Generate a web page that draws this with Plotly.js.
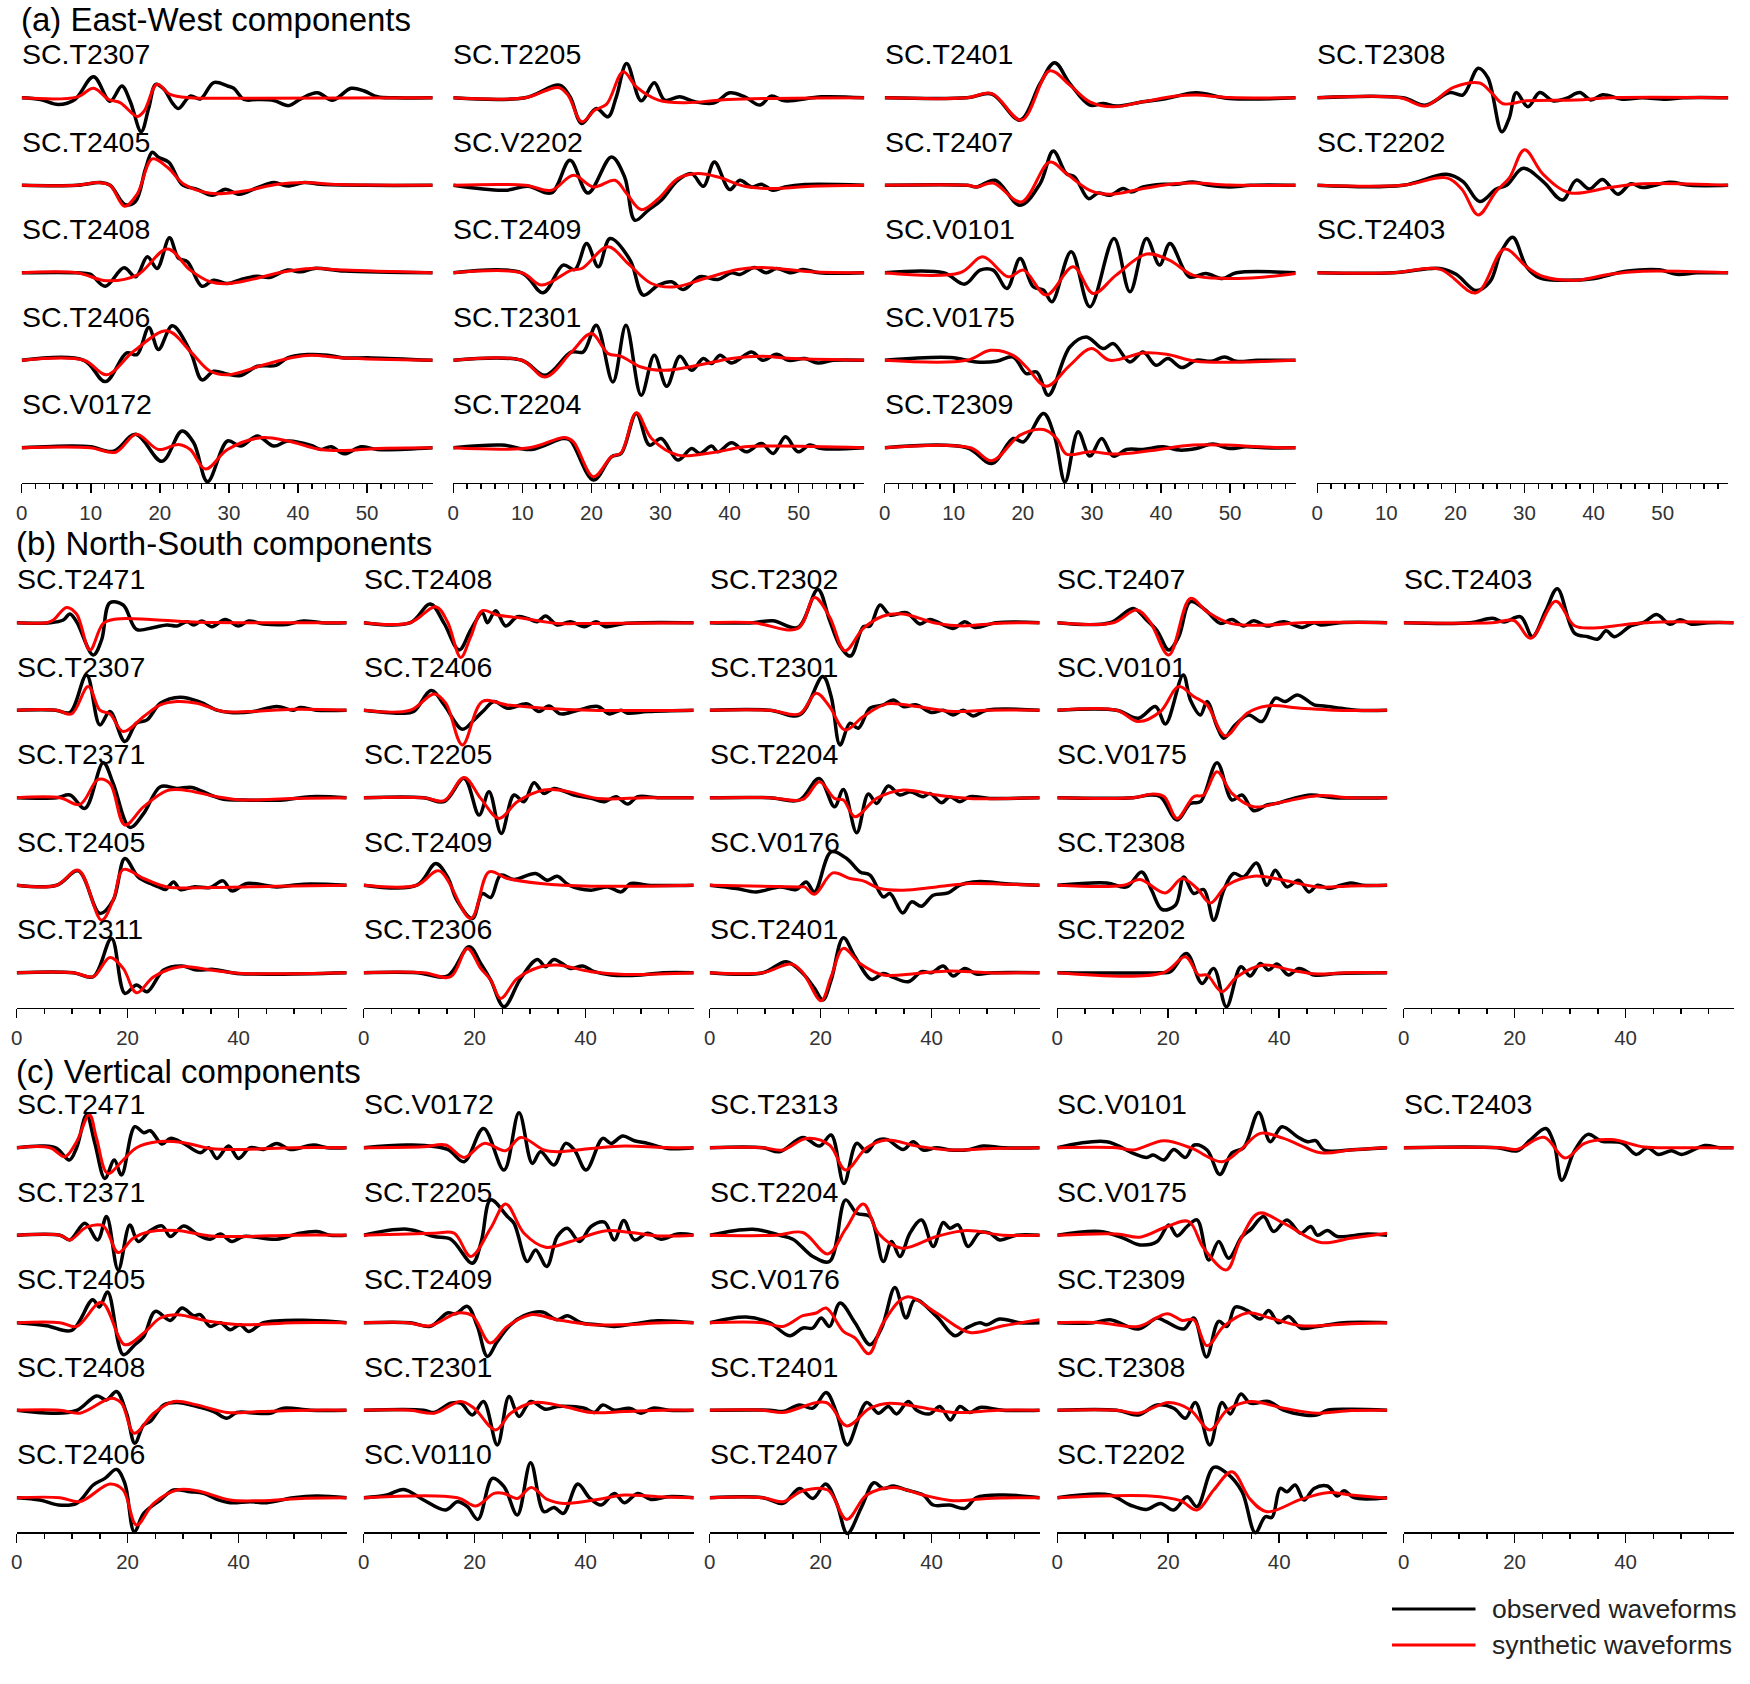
<!DOCTYPE html>
<html><head><meta charset="utf-8">
<script src="https://cdn.plot.ly/plotly-3.0.1.min.js"></script>
<style>html,body{margin:0;padding:0;background:#fff}</style>
</head><body><div id="chart" style="width:1750px;height:1684px"></div>
<script>
// ---------------- DATA: [time (s), amplitude] pairs ----------------
// (a) East-West components
const ewT2307o=[0,0,2.7,-1.7,5.3,-6.8,7.7,-1.7,10.4,21,12.8,-3.4,14.5,11.8,15.7,-3.4,17.3,-33.8,18.4,-10,19.4,13.5,20.6,8.5,21.8,-5,22.7,-10.8,24.4,1.7,25.9,-1,27.8,15.2,29.8,11.8,30.7,9.5,32.2,-1.7,34.1,-1.7,36.5,-2.7,38.7,-7.8,40.4,-1,42.8,5,45,-2.4,47.7,9.5,49.6,6.8,51.5,1,54,0,59.5,0];
const ewT2307s=[0,0,8,0.7,10.4,9.5,12.6,-1.7,14.3,-5,16.7,-18.6,17.7,-13.5,19.6,13.5,21.5,3.4,24.4,0,30,-0.5,59.5,0];
const ewT2405o=[0,0,8,0,11.4,2.7,12.8,0,15,-19.3,16.5,-15.9,17.9,16,18.9,33,19.8,28,21.3,23,23.2,1,25.4,-4,27.6,-10,29.5,-4,31.5,-9,34.1,-2.4,36.5,2.7,38.5,-0.7,40.9,2.7,43.3,1,50,0,59.5,0];
const ewT2405s=[0,0,8,0,11.1,2.7,12.8,0,14.9,-21,16.7,-9,18.9,26.4,21.1,18,23.5,1,27.3,-8,32.2,-5.7,37,1,40.9,2.7,46,0.7,59.5,0];
const ewT2408o=[0,0,8,0,9.9,-1.4,12.1,-13.5,14.8,5,16.5,-4,18.2,16,19.6,4.4,21.4,35,22.7,14.5,24,11,26.1,-13.5,27.8,-7.4,29.8,-10.8,31.7,-6.8,34.1,-3.4,35.8,-4.7,38.5,2.7,40.4,1,42.4,4.4,46.7,1.7,59.5,0];
const ewT2408s=[0,0,8,0,12.3,-8,16.7,-2.4,21.1,23.7,24.4,2.7,27.3,-9,29.8,-10.8,33.2,-6.8,38,1,41.9,4.4,46.7,2.7,59.5,0];
const ewT2406o=[0,0,9,0,12.1,-21.3,15.2,7.4,16.7,5.7,18.4,32.8,19.8,10.8,21.8,34.5,24.4,9,26.1,-19.6,27.8,-11,29.8,-13.9,31.7,-15.2,34.1,-6,36.8,-5,38.5,2.4,41.4,5.7,44.3,5,46.7,2.4,50.6,2.4,59.5,0];
const ewT2406s=[0,0,9,0,12.3,-14.5,16.2,9,21.1,29.4,24.4,9,27.3,-11,29.8,-14.5,35.1,-4.4,39.4,3,41.9,5,46.7,2.4,59.5,0];
const ewV0172o=[0,0,7,1.7,10,1,13.3,-3.4,16.5,13.5,20.3,-13.5,23.2,16.9,24.9,5,26.9,-33.8,29.8,6.8,31.7,1.7,34.1,11.8,36.5,1.7,38.5,6.8,41.9,2.4,43.3,-1.7,44.8,1,46.7,-6,49.1,1,51.5,-1.7,59.5,0];
const ewV0172s=[0,0,9.9,0,13.6,-4.4,16.6,13.5,19.8,-1.7,22.7,3.4,24.4,-1.7,26.6,-21.3,29.8,-1.7,34.6,10.1,38.5,6.8,43.3,-1.7,46.7,-2.7,51.5,-0.7,59.5,0];
const ewT2205o=[0,0,10.4,0,15.4,12.7,16.9,1,18.6,-25.7,20.7,-10.7,22.4,-19,23.6,1,25.1,34.3,27.2,-3,29.1,15,30.6,-2.3,32.8,1,35,-4,37.8,-5,40,5,42.2,1,44.4,-7.3,46,1.7,48,-3,53.3,1,59.5,0];
const ewT2205s=[0,0,10.4,0,15.2,10.3,16.6,2.7,18.6,-24,20.5,-12.3,22.2,-6.3,24.6,26,26.5,11,29.7,-2.3,33.5,-5,39.8,-1.7,59.5,0];
const ewV2202o=[0,0,7.5,-5,10.8,-1,14.2,-7.7,16.9,25,19.5,-7.7,22.9,28.3,24.8,8.3,26.3,-35,28.2,-25,30.1,-15,32.5,5,34.5,11.7,36.2,-1,37.8,23.3,40,-4.3,41.5,5,43.2,-1.7,44.6,1,46.3,-5,48,-1.7,50.9,0.7,59.5,0];
const ewV2202s=[0,0,10.4,0,14.2,-5,17.4,10,20.3,-1.7,23.4,5,25.1,-8.3,27.2,-24.3,29.7,-13.3,32.5,6.7,35.4,11.7,38.3,8.3,42.2,-1,46,-3.3,51.8,-1,59.5,0];
const ewT2409o=[0,0,9.9,0,13,-20,15.9,7.7,17.6,3.3,19.3,29.3,21,6,22.7,34.3,25.6,12.7,27.5,-22.3,29.7,-12.3,31.6,-9,33.3,-16.7,35.7,-4,38.3,-6.7,40.3,0,41.5,-1.7,43.6,5.3,45.3,0,46.8,4.3,48.9,0,50.6,3.3,53,0,59.5,0];
const ewT2409s=[0,0,9.9,0,12.8,-12.3,17.1,2.7,18.6,4.3,22.4,26,25.3,9.3,28.7,-10.7,32.1,-14,36.4,-5.7,41.2,3.3,44.6,5.3,51.8,1,59.5,0];
const ewT2301o=[0,0,9.9,0,13.3,-15,17.1,8.3,18.8,8.3,20.7,35,23.1,-21.7,25,35,27.2,-35,29.1,5,30.9,-26,32.8,4,34.5,-10,36.2,1.7,37.4,-3.3,38.6,5,40.3,-2.7,43.2,8.3,44.8,0,46.8,6,48.5,0,50.9,1.7,52.8,-2.7,55,0,59.5,0];
const ewT2301s=[0,0,9.9,0,13.3,-16.7,17.1,8.3,20,26.7,22.4,6.7,24.3,4,27.2,-6.7,30.6,-10,35.4,-5,40.3,1.7,44.6,4,49.4,1.7,59.5,0];
const ewT2204o=[0,0,7,2.7,11.3,-1.7,15.9,9.3,16.9,7.7,20.3,-32.3,22.9,-9,24.3,-5.7,26.5,34.3,28.4,2.7,30.1,9.3,32.5,-12.3,34.5,-0.7,35.7,-5.7,37.4,1.7,38.3,-4,40.3,5,42.4,-4,44.6,4.3,46.3,-5.7,48.1,11,49.9,-4,51.6,2.7,53.3,-0.7,59.5,0];
const ewT2204s=[0,0,11,0,16.2,10.3,17.4,6,20.3,-29,22.9,-9,24.3,-5,26.5,35,28.7,9.3,32.5,-7.3,37.4,-5,42.2,1,47,1.7,59.5,0];
const ewT2401o=[0,0,11.9,0,15.5,3.7,19.6,-22.3,22.5,14.3,24.6,35,26.8,14.3,29.7,-7.3,31.6,-5.7,33.5,-8.3,37.4,-4,40.8,-0.7,45.1,5,49.9,-0.7,59.5,0];
const ewT2401s=[0,0,11.9,0,15.5,4.3,19.8,-22.3,23.9,27,26.8,12.7,29.7,-4,33.1,-9,37.4,-4,42.2,1.7,45.1,2.7,49.9,0.3,59.5,0];
const ewT2407o=[0,0,12,0,13.3,-1.7,16,5,19.6,-20,22.5,1.7,24.4,34.3,26.3,11.7,27.5,8.3,29.5,-13.3,30.9,-7.7,32.6,-10,34.5,-3.3,35.7,-6.7,37.4,-1.7,40.3,1,42.2,1,44.6,3.3,47,0,49.9,-1.7,53,0,59.5,0];
const ewT2407s=[0,0,12,0,13.3,-1.7,15.7,2.3,19.8,-16.7,23.9,23.3,26.3,11.7,29.7,-5,32.6,-9,37.4,-3.3,42.2,1.7,45.1,2.3,49.9,0.3,59.5,0];
const ewV0101o=[0,0,8.5,0,11.6,-11.3,13.8,2.7,15.7,2.7,17.7,-15.7,19.6,14.3,21.5,-14,23,-17.3,24.2,-29,27,21,29.7,-34,33.2,34.3,35.5,-19,37.9,34.3,39.8,7.7,41.3,29.3,44.1,-4,46.5,-0.7,48.9,-5.7,50.9,0,59.5,0];
const ewV0101s=[0,0,10.9,0,14.2,16,17.9,-4,20.1,2.7,23.4,-22.3,27.3,6,30.2,-20.7,33.5,-2.3,37.9,18.7,41.2,12.7,44.6,-2.3,49.4,-5.7,54.2,-4.7,59.5,-0.7];
const ewV0175o=[0,0,9.5,2.7,13.3,-1.7,16.2,-1,18.6,3.3,20.5,-13.3,22,-11.7,23.7,-35,26.8,13.3,29.2,23.3,31.6,11.7,33.1,16.7,35.5,-1.7,37.4,8.3,39.3,-5,41,1.7,43,-7.3,45.1,0,47.3,-1,49.2,3.3,50.9,-1,54,0,59.5,0];
const ewV0175s=[0,0,11.9,0,15.3,10,18.6,5,20.5,-6.7,23.4,-26,26.8,-5,29.9,11.7,32.6,0,37.4,7.3,40.8,6,45.1,-1,51.8,-1.7,59.5,0];
const ewT2309o=[0,0,11.9,0,15.5,-15.7,18.6,9.3,20.1,6,23,34.3,24.6,11,26.1,-34,28,16,29.7,-8.3,31.4,9.3,33.1,-8.3,35,-1.7,37.4,-1.7,40.3,1,42.7,-2.3,45.1,-0.7,47.5,3.7,49.9,-0.7,52.3,1,55,0,59.5,0];
const ewT2309s=[0,0,12.4,0,15.5,-13,19.6,12.7,23,18.3,24.9,9.3,26.3,-6.3,29.7,-4,33.5,-6.3,38.3,-3,44.6,2.7,49.4,2.7,54.2,1,59.5,0];
const ewT2308o=[0,0,12.4,0,15.6,-7.4,19.2,5.2,21.1,3,23.3,29.6,24.7,20,26.7,-34,27.8,-20,28.8,5.2,30.5,-8.9,32.2,5.2,34.1,-3,36,-0.7,38,5.2,39.6,-2.2,41.3,3,44.2,-1.5,47,0,50.5,-1.5,53,0,59.5,0];
const ewT2308s=[0,0,12,0,15.6,-8.1,19.7,10.4,23.5,14.8,25.2,5.2,26.9,-5.9,30.3,-3,37.5,-2.2,42.3,0,59.5,0];
const ewT2202o=[0,0,12.4,0,18.7,11,21.1,3.7,23.5,-16.3,25.9,-3.7,27.4,0,29.8,17,32.7,3.7,35.5,-14.8,37.5,5.2,39.4,-3.7,41.3,5.9,43.5,-8.9,45.4,1.5,47.1,-2.2,51,3,54,0,59.5,0];
const ewT2202s=[0,0,12.4,0,18.7,7.4,20.9,-3.7,23.3,-29.6,25.9,-5.9,27.8,7.4,30,35.5,32.7,11,36.5,-7.4,42.3,-2.2,47.1,1.5,59.5,0];
const ewT2403o=[0,0,11,0,17.7,4.4,20.1,-1.5,23,-17.8,25,-8.9,26.6,20.7,28.3,35.5,30.3,5.9,32.2,-5.2,35.5,-7.4,39.9,-5.9,44.7,1.5,49.5,3,52,-1.5,55,0,59.5,0];
const ewT2403s=[0,0,11,0,17.7,3.7,23,-20,27.1,23.7,30.3,5.9,32.7,-3.7,37.5,-7.4,42.3,-1.5,47.1,1.5,59.5,0];

// (b) North-South components
const nsT2471o=[0,0,6,0,8.4,2.7,9.6,8.7,10.8,1,13.8,-32.3,15.3,-17.3,16.8,20,19.2,17.7,21.6,-6.7,24.7,-4.7,27.1,-2.3,28.9,-3.3,30.7,1,31.9,-2.3,33.4,1.7,35.2,-4,37.6,3.3,40,-3.3,41.8,1.7,44.5,-1.3,48.7,-1.7,51.7,1.7,55,0,59.5,0];
const nsT2471s=[0,0,5.4,0,6.6,2.7,9,15.3,10.8,8.7,13.2,-27.3,15.6,-0.7,18,3.7,24.1,3.3,31.9,0.7,59.5,0];
const nsT2307o=[0,0,7,0,9.6,-2.3,12.6,35.3,15,-14.7,16.8,-1.3,19.5,-31.3,21.6,-13,23.5,-9.7,25.9,7,29.5,13,33.1,8,36.1,0,38.5,-2.3,42.7,-1.3,46.9,3.7,49.9,0,51.1,2.7,54,0,59.5,0];
const nsT2307s=[0,0,7.2,0,9.9,-3.7,12.9,23.7,15,0,16.8,-3.7,19.2,-21.3,22.9,-6.3,25.9,5.3,28.9,8.7,32.5,7,37.3,-1.3,42.1,-1.3,49.9,1,59.5,0];
const nsT2371o=[0,0,7.2,0,9.6,2.7,12.3,-10.7,15.6,35,17.4,14.3,20.4,-29.7,22.9,-15.7,25.9,11,28.9,9.3,31.6,10.3,34.9,2.7,37.3,-1.7,40.9,-2.3,48.1,-2.3,52.9,1,59.5,0];
const nsT2371s=[0,0,7.8,0,11.4,-6.7,14.7,18.3,16.8,14.3,19.5,-27.3,22.9,-9,27.1,7,30.1,7.7,36.1,1,40.9,-2.3,49.9,-0.7,59.5,0];
const nsT2405o=[0,0,7.2,0,11.1,14.3,15,-28.3,17.4,-15,19.5,26.7,21.9,8.3,24.1,1.7,25.6,-1.7,26.8,-4.3,28.3,3.3,29.5,-4.3,31.9,-1.7,34.9,-2.3,37.2,4.3,38.8,-5.7,41.5,1.7,46.9,-1.7,51.7,1,59.5,0];
const nsT2405s=[0,0,7.2,0,11.1,15,15.3,-35,17.4,-15,19.2,15.7,22.9,6.7,27.1,-1.7,34.9,-2.3,46.9,-1,59.5,0];
const nsT2311o=[0,0,10.2,0,13.8,-4,17.1,34.3,19.5,-20.7,21.6,-12.3,23.5,-19,26.5,2.7,29.8,6.7,32.5,2.7,35.5,3.3,39.7,-0.7,59.5,0];
const nsT2311s=[0,0,10.2,0,13.8,-4,16.8,15.3,19.2,4.3,21.6,-20,24.7,-4,29.5,6,34.9,2.7,40.9,-0.7,59.5,0];
const nsT2408o=[0,0,8.4,0,12,18.7,14.5,-0.7,17.2,-27.3,19.3,-7.3,21.4,10,22.3,0,23.8,12,25.6,-3.3,27.7,6,29.5,4.3,31.3,1,32.8,6.7,34.9,-2.3,37.3,1,39.8,-4,41.9,1,43.7,-4,47,-0.7,59.5,0];
const nsT2408s=[0,0,8.4,0,13,16,15.1,1,17.5,-34.7,19.3,-14,21.4,12,24.1,7.7,28.9,4.3,34.9,-0.7,41,-0.7,59.5,0];
const nsT2406o=[0,0,6.6,-3,9,-1.3,12.2,19.7,14.5,5.3,17.8,-19,19.9,-9.7,21.7,0,23.5,8.7,25.9,2,29.5,6.3,31.6,-1.3,33.4,4.3,35.5,-3.7,38.6,0,42.2,3.7,44.3,-3.7,46.4,0,47.6,-3,51.2,-1.3,59.5,0];
const nsT2406s=[0,0,8.4,0,12.7,16.3,14.8,7,17.8,-34.7,21.4,8.7,25.9,5.3,32.5,2,41,0,59.5,0];
const nsT2205o=[0,0,10.8,0,14.5,-4,18.1,19.3,20.8,-17.3,22.6,6,24.8,-35.7,27.1,2.7,28.9,-4,30.7,15,32.5,4.3,34.3,9.3,37.9,2.7,41,-0.7,43.4,-4,45.5,1,47.6,-6.3,49.4,1,53,0,59.5,0];
const nsT2205s=[0,0,10.8,0,14.5,-3,18.1,20.3,21.1,-0.7,24.4,-20.7,27.7,-4,32.5,7.7,36.1,7,42.2,-0.7,51,0,59.5,0];
const nsT2409o=[0,0,9.6,0,13,21.7,15.1,8.3,16.8,-15,19.6,-33.3,21.4,-8.3,22.9,-12.3,24.7,10,27.1,5.7,31,11.7,33.1,5,34.9,9,37,0,41,-5,44,-1.7,46.4,-6.7,48.2,1.7,51.2,0,59.5,0];
const nsT2409s=[0,0,9.6,0,13.6,14.3,19.3,-33.3,22.6,13.3,25.9,6.7,31.9,1.7,41,-1,59.5,0];
const nsT2306o=[0,0,9.6,0,15.1,-3.3,19,26,21.1,9.3,22.9,-7.3,25.3,-34,28.3,-5.7,31.3,13.3,32.8,6,34.3,13.3,37.3,4.3,39.5,6.7,41.6,1,44.6,-2.3,50,-2.3,54,0,59.5,0];
const nsT2306s=[0,0,10.8,0,15.7,-4,18.7,24.3,21.1,4.3,22.9,-7.3,24.7,-25.7,27.7,-5.7,31.9,6,34.9,7.7,41,1,47,-1.7,59.5,0];
const nsT2302o=[0,0,7.8,0,11.4,2,15.9,-4.7,19.5,33.3,21.6,2.7,23.5,-23.3,25.4,-33.3,27.7,-4,28.9,-3.3,30.7,17.7,32.5,7.7,35.5,10,37.9,-1.3,39.7,3.3,43.9,-5.7,46,1,47.8,-4.7,51.7,0,59.5,0];
const nsT2302s=[0,0,7.8,0,15.9,-5.7,18.9,25.3,21.6,6,24.4,-28,27.7,-5.7,31.3,6.7,34.9,8.7,40.9,-0.7,45.7,-3.3,52,-0.5,59.5,0];
const nsT2301o=[0,0,10.8,0,16.2,-4.7,20.4,33.7,21.9,13.7,23.5,-34.7,25.3,-13,26.8,-18,28.9,2,31.3,5.3,33.1,10.3,34.9,3.7,37.3,5.3,40,-2.3,42.1,0,43.9,-4.7,45.7,0,47.5,-5.7,49.9,0,59.5,0];
const nsT2301s=[0,0,10.8,0,16.2,-3.7,19.2,17,21.6,3.7,24.4,-19.7,27.7,-6.3,31.9,6.3,37.3,3.7,43.9,-1.3,50,0,59.5,0];
const nsT2204o=[0,0,10.8,0,16.2,-2.3,19.7,19.3,22.5,-9,24.1,8.3,26.5,-35,28.6,3.7,30.1,-5.7,32.2,11.7,34.3,2.7,36.1,6,38.5,1,39.7,4.3,41.8,-5,43.3,1,45.1,-4,46.9,1,50.5,-0.7,59.5,0];
const nsT2204s=[0,0,10.8,0,16.8,-1.7,19.8,16,22.5,-0.7,24.1,-2.3,26.2,-19,30.1,-0.7,34.9,7.7,40.9,2.7,46.9,-0.7,59.5,0];
const nsV0176o=[0,0,4.8,-3.3,8.4,-6.7,12.6,-1.7,15.6,-4.3,17.4,3.3,18.9,-6.7,21.9,33.3,24.7,26.7,27.1,13.3,28.9,10,31.3,-11.7,32.5,-8.3,34.8,-27.7,36.4,-16.7,38.2,-21,40.3,-10,43,-7.7,45.1,0,47.5,3.3,50.5,3.3,52.9,1.7,59.5,0];
const nsV0176s=[0,0,16.2,-1.7,17.1,-1.7,18.9,-9,22.2,12.3,25.3,6.7,27.7,4.3,30.7,-3.3,34.9,-5,40.9,-1.7,46.9,1.7,52.9,1,59.5,0];
const nsT2401o=[0,0,9.6,0,13.8,11,16.8,-0.7,18.9,-15.7,20.4,-27.3,21.9,-7.3,24.1,35,26.2,16,29.2,-6.7,31.3,-0.7,33.1,-4.7,35.8,-9,38.2,1,40,0,42.1,6.7,43.9,-3.3,46,4.3,48.1,-1.3,51,0,59.5,0];
const nsT2401s=[0,0,9.6,0,14.7,8.7,16.8,0,20.1,-28,21.9,-4,24.1,24.3,27.1,9.3,31.3,-2.3,37.3,-0.7,43.3,1.7,50,0,59.5,0];
const nsT2407o=[0,0,9.5,0,13.7,14.3,16.1,2.7,18,-8,20.1,-27.3,21.9,-14,24,21,26.7,12.7,29.4,-0.7,31.5,3.3,33.6,-3.3,35.4,2,37.8,-3.3,40.8,1,44.2,-4.7,46.3,0,47.5,-2.3,51,0,59.5,0];
const nsT2407s=[0,0,10.1,0,14.3,12.7,16.7,1,20.1,-32.3,24,24.3,27,11,31.2,-0.7,37.8,-2.3,43.9,0,59.5,0];
const nsV0101o=[0,0,10.7,0,14.6,-8,17.7,3.7,19.5,-13.7,22.7,35.3,24,10.3,25.8,-4.7,27,8.7,28.8,-16.3,30,-28,32.1,-14.7,34.5,-4.7,36.9,-11.3,39.3,12,41.1,8.7,43.3,15.3,46.3,5.3,48.1,4.3,51.1,2,54,0,59.5,0];
const nsV0101s=[0,0,10.7,0,14.6,-11.3,18.6,-1.3,21.9,23.7,24.6,13.7,27,5.3,30.3,-25.7,34.2,-3,37.8,4.3,43.9,2,49.9,0,59.5,0];
const nsV0175o=[0,0,13.7,0,16.7,2.7,18.6,1,21.6,-22.3,24,-5.7,25.8,-4,28.8,35,31.5,-2.3,33.3,2.7,35.4,-13,37.8,-7.3,39.6,-5.7,42,-1.7,45.7,2.7,49.9,0,59.5,0];
const nsV0175s=[0,0,13.7,0,17.3,3.7,19.3,1,21.6,-20.7,24.6,1,26.4,2.7,28.8,26,31.5,4.3,35.4,-9,40.8,-4,46.9,2,53,0,59.5,0];
const nsT2308o=[0,0,8.9,2.3,12.5,-1.7,15.2,13.3,17,-5,18.9,-24.3,21.3,-20,22.8,8.3,24.6,-8.3,26.4,-4.3,28.2,-35,30,-5,31.8,11.7,33.6,8.3,35.9,22.3,37.8,0,39.3,15,41.4,-1.7,43.5,5,45.4,-6.7,46.9,0,49,-3.3,51.1,0,52.9,2.3,55,0,59.5,0];
const nsT2308s=[0,0,12,0,14.9,5.7,19.5,-7.7,22.5,6.7,25.2,-3.3,27.6,-17.7,30.6,0,35.4,9,40.8,5,46.9,-1.7,53,-0.7,59.5,0];
const nsT2202o=[0,0,18.5,0,20.4,1,23.3,19.3,26.1,-10.7,28.2,4.3,30.5,-34,33.1,6,34.8,-3.3,36.6,9.3,38.1,2.7,39.6,8.7,41.7,-2.3,43.6,4.3,46.3,-2.3,50.5,-0.7,59.5,0];
const nsT2202s=[0,0,19.1,0,23.1,16,25.5,-2.3,27,-2.3,29.7,-19,32.4,-4,37.2,7.7,42,2.7,46.9,-1.3,52,0,59.5,0];
const nsT2403o=[0,0,12,0,16,4.4,18.1,0.7,21.1,5.9,23.2,-14,25.6,11.8,27.7,34,30.8,-10.4,33.2,-14,35,-16.3,36.5,-8.1,38,-14,41,-3,43.4,0.7,45.6,8.1,48,-1.5,49.8,3,51.9,-1.5,55,0,59.5,0];
const nsT2403s=[0,0,16,0,19.9,2.2,22.9,-15.5,27.4,21.5,30.8,-3,34.4,-5.2,40.4,-1.5,46.5,0.7,59.5,0];

// (c) Vertical components
const zT2471o=[0,0,4.8,1.7,7.2,-0.7,9.5,-12.3,10.8,0,12.6,32.7,14.1,4.3,15.9,-30.7,17.6,-12.3,18.9,-27.3,21.3,21,22.9,15,24.1,17,26.2,3.7,27.7,9.3,30.1,4.3,33.1,-5,34.6,0,36.1,-10.7,38.2,1.7,40,-10.7,42.1,0,44.5,-1.7,46.9,4.3,49.3,-1.7,53.5,2.7,56,0,59.5,0];
const zT2471s=[0,0,6,0,8.7,-9,10.8,6,13.1,33.3,14.4,9.3,16.4,-25.7,19.2,-12.3,21.6,0,25.3,6,30.1,5,34.9,-0.7,40.9,-1.7,49.9,0,59.5,0];
const zT2371o=[0,0,7.8,0,9.6,-4.7,12.3,12,14.6,-4.7,16.2,18.7,18.3,-34.7,20.4,10.3,21.9,-6.3,24.1,4.7,26.2,9.3,27.7,-1.3,30.1,9.3,32.8,0,34.9,-4,36.7,1.3,38.8,-6.3,40.9,-1.3,46.9,-4,50.5,1.3,54.1,3.7,56.5,0,59.5,0];
const zT2371s=[0,0,7.8,0,9.6,-4.7,12.6,8,15.6,9.3,18.3,-17.3,21,-3,24.1,3.7,28.9,4.7,34.9,-0.7,40.9,-1.3,50,0,59.5,0];
const zT2405o=[0,0,5.4,-3,9.9,-7.7,13.7,23,14.9,15.7,16.4,30.7,19.2,-32,21.3,-22,22.9,-13.7,25,11.3,27.7,2.3,29.8,14.7,31.9,7,33.1,8,34.9,-3.7,36.7,0,38.5,-7,40.3,-2,41.8,-8.7,44.5,0,52.9,2.3,59.5,0];
const zT2405s=[0,0,7.8,0,10.8,-3.7,15.3,20.3,19.5,-22,22.9,-10.3,25.9,4.7,28.9,8,34.9,1.3,40.9,-2,50,0,59.5,0];
const zT2408o=[0,0,6.6,-3,10.8,-0.3,14.4,14.3,16.2,10.3,18,18.7,19.8,-3,21.3,-33,22.9,-14.7,24.1,-11.3,26.5,5.3,28.9,7.7,32.5,3.7,35.5,-1.3,37.9,-8,39.7,-2.3,43.3,-3,45.7,-3,48.1,2,53,0,59.5,0];
const zT2408s=[0,0,7.8,0,11.4,-3,17.1,12,18.9,7,21.2,-23,24.7,-3,28.3,8.7,32.5,5.3,37.9,-2.3,43.9,-1.3,53,0,59.5,0];
const zT2406o=[0,0,4.2,-2.3,7.5,-7.3,10.8,-5.7,13.8,12.7,15.9,19.3,18,28.3,19.5,14.3,21.2,-34,22.9,-15.7,25.9,-2.3,28.3,7.7,31.3,6,33.7,4.3,36.1,-1.7,38.5,-5,42.1,-4,45.1,-5,49.9,0,54.1,1.7,59.5,0];
const zT2406s=[0,0,7.8,0,11.4,-4,16.8,13.7,19.2,7.7,21.6,-27.3,24.7,-5.7,28.9,7.7,32.5,7,38.5,-2.3,43.9,-3,52,-0.5,59.5,0];
const zV0172o=[0,0,8.4,2.7,15.1,-1.7,18.1,-14,21.6,19.3,25.3,-22.3,28,35,30.4,-15.7,31.9,-4,34.3,-17.3,36.4,4.3,38,-2.3,40.1,-22.3,43.1,9.3,44.6,4.3,46.7,11.7,48.8,7,51.2,4.3,54.8,-0.7,59.5,0];
const zV0172s=[0,0,10.8,1,14.8,2.7,18.1,-9.7,21.7,4.3,25.6,-3,28.3,10.3,32.5,-2.3,34.9,-4,41,-0.7,47,1.7,54,0.3,59.5,0];
const zT2205o=[0,0,7.8,6,12.7,-1.3,15.7,-4,19.6,-28,21.2,-6.3,22.9,35.3,25.9,18.7,27.1,12,29.5,-26.3,31,-14.7,33,-31.3,34.9,-1.3,36.7,7,38.9,-6.3,41,8.7,43.4,13,45.2,-4.7,46.9,14.7,48.8,-4.7,51.2,2,53.6,-4,56.6,1.3,59.5,0];
const zT2205s=[0,0,12.7,2,16.3,2,19.3,-21.3,22.9,7,25.6,31.3,28.9,2,32.8,-12,37.3,-6.3,43.4,4.3,48.2,2.7,53,-0.7,59.5,0];
const zT2409o=[0,0,8.4,0,12,-3.7,15.1,9.7,16.6,9,18.7,16.3,20.5,-3.7,22.3,-33.7,24.1,-18.7,26.5,-2,28.9,7,32.2,10.7,34.9,3,36.7,7,39.2,0,42.2,-2,45.2,-3.7,48.8,-1,53,2,59.5,0];
const zT2409s=[0,0,7.8,0,12,-3,16.9,9.7,19.6,7,22.8,-20.3,25.9,-3.7,30.1,8,34.9,3,41,-2,47,-2,54,0,59.5,0];
const zT2301o=[0,0,10.8,0,12.7,-2.3,15.7,7,17.5,7,19.6,-4.7,21.6,8.7,24.1,-34.7,26.2,13.7,28,-6.3,30.1,8.7,32.8,1,34.9,3.7,37.3,3.7,39.8,2,41.6,-2.3,43.1,5.3,45.2,0,47.9,2,50,-3,52.1,2,55,0,59.5,0];
const zT2301s=[0,0,8.4,0,12.7,-3,17.5,8.7,19.9,2,23.8,-19.7,26.5,-3,30.7,7.7,36.1,3.7,41,-2.3,47,-1.3,54,0,59.5,0];
const zV0110o=[0,0,4.2,2.7,7.2,8.3,10.8,-2.3,14.8,-12.3,16.9,-4,18.7,-9,20.6,-21.7,23.2,19.3,25.3,11,27.7,-17.3,30.1,35,32.5,-14,34.3,-9.7,36,-15.7,38.6,13.7,40.7,0,42.8,-7.3,45.2,4.3,47,-5,49.4,4.3,51.8,-1.7,54.8,1,59.5,0];
const zV0110s=[0,0,16.9,0,20.2,-8.3,23.5,4.3,25.3,4.3,27.7,-0.7,30.2,10.3,33.1,-1.7,36.1,-5.7,42.2,-1.7,47,2.7,53,1,59.5,0];
const zT2313o=[0,0,9.6,0,12.6,-4,16.8,10.3,19.8,1.7,21.9,12.7,24.2,-35.7,26.5,4.3,28.3,-4,30.1,7,31.9,8.3,34.9,-1.7,36.7,6,38.5,-2.3,40.9,0,43.3,-2.3,46.9,-1.7,49.3,1.7,53,0,59.5,0];
const zT2313s=[0,0,9.6,0,13.2,-2.3,17.4,9.3,21.6,2.7,24.5,-22.3,28.3,0,31.9,7.7,37.3,1.7,43.3,-2.3,50,-1,59.5,0];
const zT2204o=[0,0,7.8,6,12.6,0,15,-4,18.6,-21.3,21.6,-26.3,24.5,35.3,26.5,22,28.9,18.7,31.3,-26.3,32.8,-6.3,34.3,-21.3,36.1,2,38.2,15.3,40.3,-11.3,42.1,12.7,43.3,7,44.8,10.3,46.6,-11.3,48.7,2.7,50.5,2,52.3,-4.7,55.3,0,59.5,0];
const zT2204s=[0,0,12,0,16.8,2.7,21.3,-18.7,24.5,6,27.7,31.3,30.4,2,34.6,-13,40.9,-1.3,46.3,4.7,52.9,0,59.5,0];
const zV0176o=[0,0,6.6,5.7,10.8,0,14.4,-13,16.8,-5.3,18.6,-5.3,20.1,4.7,21.6,-3.7,23.5,19.7,26.2,0,28.9,-22,31,-5.3,33.4,35.3,35.4,4.7,37,23,40.9,6.3,44.2,-13,46.3,-5.3,48.7,0,49.9,-2,52.3,3.7,55.9,0,59.5,0];
const zV0176s=[0,0,9.6,0,13.2,-3.7,16.8,7,19.2,9.7,21,14.7,24.1,-8.7,26.2,-15.3,28.7,-31,31.3,0,35.5,25.7,40.9,9.7,46.9,-9.7,52.9,-3,59.5,3];
const zT2401o=[0,0,10.8,0,13.2,-1.3,16.2,5.3,18.6,2,21,17.7,22.9,-3,24.8,-34.7,28.3,7.7,30.4,-3,32.2,3.7,33.7,-3.7,35.8,8.7,37.3,0,39.7,-3.7,41.5,3.7,43.4,-9.7,45.1,3.7,46.9,-2.3,48.7,2.7,52.9,0,59.5,0];
const zT2401s=[0,0,9.6,0,13.2,-2.3,21,7.7,24.7,-15.7,28.9,2,32.5,7,37.9,3,43.9,-2.3,52,0,59.5,0];
const zT2407o=[0,0,9.6,0,13.2,-5.7,16.2,9.3,18.6,-0.7,20.9,13.7,22.9,-5.7,24.8,-35.7,27.4,-9,29.6,15,31.3,9.3,33.1,11.7,35.5,7.7,38.5,2.7,40.3,-7.3,43.3,-7.3,46,-10.7,48.1,0,52.9,2.7,59.5,0];
const zT2407s=[0,0,9.6,0,13.2,-4,16.8,7,21.3,7.7,24.7,-21.7,28.3,2.7,33.1,10.3,38.5,2.7,43.9,-3,49.9,-0.7,59.5,0];
const zV0101o=[0,0,8.9,6,13.7,-5.7,16.1,-9.7,17.3,-7.3,19.2,-12.3,21,-1.7,23.1,-9.7,24.7,2.7,27,-2.3,29.3,-26.7,31.5,-5,33.6,0,36.3,35.3,38.4,6,40.5,21,43.3,11,45.1,6,46.6,7,48.1,-2.3,54,-1.7,59.5,0];
const zV0101s=[0,0,10.7,0,13.7,-2.3,19.2,7,24,0,29.7,-14,33,-2.3,36.6,14.3,40.8,9.3,47.5,-5,52.9,-2.3,59.5,0.3];
const zV0175o=[0,0,7.7,3.7,11.9,-3,14.9,-9.7,18,-6.3,20.1,10.3,21.6,-0.7,23.4,8.7,25.2,15.3,27.3,-24.7,29.1,-6.3,30.9,-23,33.3,-1.3,34.8,5.3,37.2,18.7,39,3.7,41.4,15.3,43.9,2,45.7,8.7,46.9,0,48.7,4.7,50.5,-1.3,55.9,1.3,59.5,0];
const zV0175s=[0,0,10.7,1.3,14.9,-2,19.8,8.7,23.7,13.7,26.4,-13,30.5,-34.7,33,-4.7,36.3,22,40.8,12,47.5,-7.3,52.9,-3,59.5,2];
const zT2309o=[0,0,6.5,0,9.5,3,14.6,-6.3,18,4.7,19.5,1.3,22.8,-6.3,24.6,4.7,26.9,-34.3,29.1,1.3,30.6,-3.7,32.1,15.7,34.2,12.3,36.6,3.7,38.1,12.3,39.9,0,41.7,6.3,43.9,-5.3,46.9,-3.7,51.7,0,59.5,0];
const zT2309s=[0,0,7.7,0,14.6,-3.7,19.8,9,22.5,2.3,24.6,3,27,-23,30,-3.7,34.2,9.7,38.4,4.7,43.9,-3,52.9,-1,59.5,0];
const zT2308o=[0,0,10.7,0,14.6,-4.7,18,5.3,21,2,23.1,-8,24.9,7.7,27.5,-34.7,29.7,7.7,31.2,-3.7,33.1,16.3,34.8,7,38.1,8.7,40.8,0,44.5,-4.7,46.9,-4.7,48.7,0,52.9,1,59.5,0];
const zT2308s=[0,0,10.7,0,14.6,-3,20.1,7.7,24,0.3,27.5,-19.7,30.6,0,34.8,8.7,40.8,2,46.9,-3,53,-0.3,59.5,0];
const zT2202o=[0,0,9.5,2.7,13.1,-7.3,16.1,-11.7,18.6,-5.7,21,-12.3,23.4,1,25.2,-9,28.2,30.3,30.6,24.3,33.3,6,35.7,-35,37.5,-19,38.7,-19.7,40.2,9.3,41.4,6,42.9,12.7,44.5,-2.3,46.3,9.3,48.7,11.7,50.5,1.7,51.7,7,53.5,0,59.5,0];
const zT2202s=[0,0,16.7,1.7,22.2,-3,25.2,-12.3,28.2,7.7,31.5,26,34.8,-1.7,37.8,-14,43.9,-1.7,48.7,5,52.9,2.7,59.5,-0.5];
const zT2403o=[0,0,16.9,0,20.5,-3,22.9,8.1,25.6,19.2,27.1,4.4,28.5,-32.5,30.8,-3,33.2,13.3,35.6,6.7,39.5,4.4,41.9,-6.7,44,0,45.9,-6.7,48.3,-3,50.1,-6.7,54.3,2.2,57,0,59.5,0];
const zT2403s=[0,0,17.5,0,20.5,-1.5,25.3,10.4,29.1,-10.4,32.6,4.4,37.4,8.1,43.4,0.7,49.5,0,59.5,0];

// tick labels (seconds)
const ewTicks=[0,10,20,30,40,50];
const nsTicks=[0,20,40];
const zTicks=[0,20,40];
const legendLabels=["observed waveforms","synthetic waveforms"];

// panel tables built from the named arrays (columns top to bottom)
const ewColumns=[
 [["SC.T2307",ewT2307o,ewT2307s],["SC.T2405",ewT2405o,ewT2405s],["SC.T2408",ewT2408o,ewT2408s],["SC.T2406",ewT2406o,ewT2406s],["SC.V0172",ewV0172o,ewV0172s]],
 [["SC.T2205",ewT2205o,ewT2205s],["SC.V2202",ewV2202o,ewV2202s],["SC.T2409",ewT2409o,ewT2409s],["SC.T2301",ewT2301o,ewT2301s],["SC.T2204",ewT2204o,ewT2204s]],
 [["SC.T2401",ewT2401o,ewT2401s],["SC.T2407",ewT2407o,ewT2407s],["SC.V0101",ewV0101o,ewV0101s],["SC.V0175",ewV0175o,ewV0175s],["SC.T2309",ewT2309o,ewT2309s]],
 [["SC.T2308",ewT2308o,ewT2308s],["SC.T2202",ewT2202o,ewT2202s],["SC.T2403",ewT2403o,ewT2403s]]
];
const nsColumns=[
 [["SC.T2471",nsT2471o,nsT2471s],["SC.T2307",nsT2307o,nsT2307s],["SC.T2371",nsT2371o,nsT2371s],["SC.T2405",nsT2405o,nsT2405s],["SC.T2311",nsT2311o,nsT2311s]],
 [["SC.T2408",nsT2408o,nsT2408s],["SC.T2406",nsT2406o,nsT2406s],["SC.T2205",nsT2205o,nsT2205s],["SC.T2409",nsT2409o,nsT2409s],["SC.T2306",nsT2306o,nsT2306s]],
 [["SC.T2302",nsT2302o,nsT2302s],["SC.T2301",nsT2301o,nsT2301s],["SC.T2204",nsT2204o,nsT2204s],["SC.V0176",nsV0176o,nsV0176s],["SC.T2401",nsT2401o,nsT2401s]],
 [["SC.T2407",nsT2407o,nsT2407s],["SC.V0101",nsV0101o,nsV0101s],["SC.V0175",nsV0175o,nsV0175s],["SC.T2308",nsT2308o,nsT2308s],["SC.T2202",nsT2202o,nsT2202s]],
 [["SC.T2403",nsT2403o,nsT2403s]]
];
const zColumns=[
 [["SC.T2471",zT2471o,zT2471s],["SC.T2371",zT2371o,zT2371s],["SC.T2405",zT2405o,zT2405s],["SC.T2408",zT2408o,zT2408s],["SC.T2406",zT2406o,zT2406s]],
 [["SC.V0172",zV0172o,zV0172s],["SC.T2205",zT2205o,zT2205s],["SC.T2409",zT2409o,zT2409s],["SC.T2301",zT2301o,zT2301s],["SC.V0110",zV0110o,zV0110s]],
 [["SC.T2313",zT2313o,zT2313s],["SC.T2204",zT2204o,zT2204s],["SC.V0176",zV0176o,zV0176s],["SC.T2401",zT2401o,zT2401s],["SC.T2407",zT2407o,zT2407s]],
 [["SC.V0101",zV0101o,zV0101s],["SC.V0175",zV0175o,zV0175s],["SC.T2309",zT2309o,zT2309s],["SC.T2308",zT2308o,zT2308s],["SC.T2202",zT2202o,zT2202s]],
 [["SC.T2403",zT2403o,zT2403s]]
];

// ---------------- LAYOUT ----------------
const W=1750,H=1684;
const FONT='"Liberation Sans", Arial, Helvetica, sans-serif';
const STEP=87.5, HALF=43.75, XMAX=59.5;
const colX5=[16.7,363.7,709.7,1057.3,1403.7];
const sections=[
 {title:"(a) East-West components", titleY:19.5, cols:ewColumns, x0:[21.7,453.3,884.7,1317.3], w:411, base0:97.8, axisY:482.5, ticks:ewTicks, minor:2},
 {title:"(b) North-South components", titleY:543, cols:nsColumns, x0:colX5, w:330, base0:622.7, axisY:1007.7, ticks:nsTicks, minor:5},
 {title:"(c) Vertical components", titleY:1071, cols:zColumns, x0:colX5, w:330, base0:1147.7, axisY:1532.3, ticks:zTicks, minor:5}
];
const px=x=>x/W, py=y=>1-y/H;
function split(arr){const x=[],y=[];for(let i=0;i<arr.length;i+=2){x.push(arr[i]);y.push(arr[i+1]);}return {x,y};}

const traces=[]; const layout={width:W,height:H,margin:{l:0,r:0,t:0,b:0},paper_bgcolor:'#fff',plot_bgcolor:'rgba(0,0,0,0)',showlegend:false,annotations:[],shapes:[]};
let xi=0, yi=0;
sections.forEach(sec=>{
  layout.annotations.push({text:sec.title,x:px(sec.x0[0]-1.5),y:py(sec.titleY),xref:'paper',yref:'paper',xanchor:'left',yanchor:'middle',borderpad:0,showarrow:false,font:{family:FONT,size:33,color:'#000'}});
  sec.cols.forEach((col,ci)=>{
    xi++; const xk=xi===1?'xaxis':'xaxis'+xi, xr=xi===1?'x':'x'+xi;
    const x0=sec.x0[ci];
    layout[xk]={domain:[px(x0),px(x0+sec.w)],range:[0,XMAX],anchor:'free',position:py(sec.axisY),
      showline:true,linecolor:'#000',linewidth:1.5,ticks:'outside',tickmode:'array',tickvals:sec.ticks,ticktext:sec.ticks.map(String),
      ticklen:9,tickwidth:1.5,tickcolor:'#000',
      minor:{tickmode:'linear',tick0:0,dtick:sec.minor,ticks:'outside',ticklen:5,tickwidth:1.5,tickcolor:'#000',showgrid:false},
      showgrid:false,zeroline:false,tickfont:{family:FONT,size:20.5,color:'#333'},ticklabelstandoff:2,fixedrange:true};
    col.forEach((p,ri)=>{
      yi++; const yk=yi===1?'yaxis':'yaxis'+yi, yr=yi===1?'y':'y'+yi;
      const base=sec.base0+ri*STEP;
      layout[yk]={domain:[py(base+HALF),py(base-HALF)],range:[-HALF,HALF],anchor:xr,visible:false,fixedrange:true,showgrid:false,zeroline:false};
      const o=split(p[1]), s=split(p[2]);
      traces.push({type:'scatter',mode:'lines',x:o.x,y:o.y,xaxis:xr,yaxis:yr,name:legendLabels[0],line:{color:'#000',width:3.5,shape:'spline',smoothing:1},hoverinfo:'skip'});
      traces.push({type:'scatter',mode:'lines',x:s.x,y:s.y,xaxis:xr,yaxis:yr,name:legendLabels[1],line:{color:'#ff0000',width:3,shape:'spline',smoothing:1},hoverinfo:'skip'});
      layout.annotations.push({text:p[0],x:px(x0-2),y:py(base-43.5),xref:'paper',yref:'paper',xanchor:'left',yanchor:'middle',showarrow:false,font:{family:FONT,size:28.5,color:'#000'}});
    });
  });
});
// legend
const legY=[1609,1645], legCol=['#000','#ff0000'];
legendLabels.forEach((lab,i)=>{
  layout.shapes.push({type:'line',xref:'paper',yref:'paper',x0:px(1392),x1:px(1475.5),y0:py(legY[i]),y1:py(legY[i]),line:{color:legCol[i],width:3}});
  layout.annotations.push({text:lab,x:px(1490),y:py(legY[i]),xref:'paper',yref:'paper',xanchor:'left',yanchor:'middle',showarrow:false,font:{family:FONT,size:26.5,color:'#222'}});
});
Plotly.newPlot('chart',traces,layout,{displayModeBar:false,staticPlot:true});
</script></body></html>
